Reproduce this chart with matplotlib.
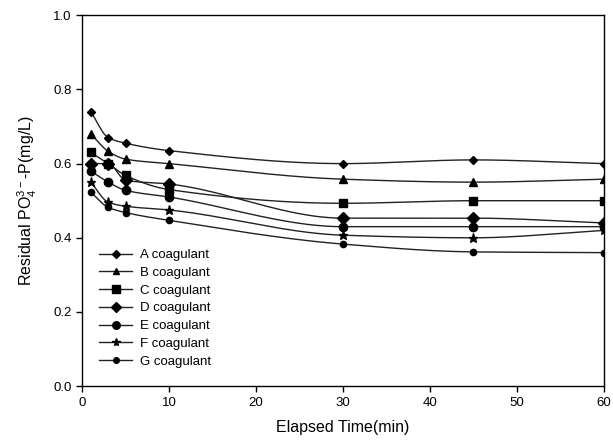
import numpy as np
import matplotlib
matplotlib.use('Agg')
import matplotlib.pyplot as plt

plt.rcParams['font.family'] = ['Liberation Sans', 'DejaVu Sans']
plt.rcParams['mathtext.default'] = 'regular'

# elapsed time (min)
time_min = [1, 3, 5, 10, 30, 45, 60]

# residual PO4-P (mg/L) per coagulant
a_coag = [0.74, 0.67, 0.655, 0.635, 0.60, 0.61, 0.60]
b_coag = [0.68, 0.633, 0.612, 0.60, 0.558, 0.55, 0.558]
c_coag = [0.63, 0.60, 0.568, 0.53, 0.493, 0.50, 0.50]
d_coag = [0.60, 0.60, 0.555, 0.545, 0.453, 0.453, 0.44]
e_coag = [0.58, 0.55, 0.528, 0.51, 0.43, 0.43, 0.43]
f_coag = [0.55, 0.496, 0.485, 0.475, 0.407, 0.40, 0.42]
g_coag = [0.523, 0.482, 0.468, 0.447, 0.383, 0.362, 0.36]

labels = ['A coagulant', 'B coagulant', 'C coagulant', 'D coagulant',
          'E coagulant', 'F coagulant', 'G coagulant']
series = [a_coag, b_coag, c_coag, d_coag, e_coag, f_coag, g_coag]
markers = ['D', '^', 's', 'D', 'o', '*', 'o']
msizes = [4.5, 5.5, 6, 6, 6, 6.5, 4.5]


def pchip(x, y, n=300):
    # monotone cubic through the points (no overshoot)
    x = np.asarray(x, float)
    y = np.asarray(y, float)
    h = np.diff(x)
    delta = np.diff(y) / h
    k = len(x)
    m = np.zeros(k)
    for i in range(1, k - 1):
        if delta[i - 1] * delta[i] > 0:
            w1 = 2 * h[i] + h[i - 1]
            w2 = h[i] + 2 * h[i - 1]
            m[i] = (w1 + w2) / (w1 / delta[i - 1] + w2 / delta[i])
    m[0] = delta[0]
    m[-1] = delta[-1]
    xs = np.linspace(x[0], x[-1], n)
    idx = np.clip(np.searchsorted(x, xs) - 1, 0, k - 2)
    t = (xs - x[idx]) / h[idx]
    h00 = 2 * t ** 3 - 3 * t ** 2 + 1
    h10 = t ** 3 - 2 * t ** 2 + t
    h01 = -2 * t ** 3 + 3 * t ** 2
    h11 = t ** 3 - t ** 2
    ys = (h00 * y[idx] + h10 * h[idx] * m[idx] + h01 * y[idx + 1]
          + h11 * h[idx] * m[idx + 1])
    return xs, ys


fig = plt.figure(figsize=(6.13, 4.48), dpi=100)
ax = fig.add_axes([0.134, 0.138, 0.851, 0.828])

for vals, lab, m, ms in zip(series, labels, markers, msizes):
    xs, ys = pchip(time_min, vals)
    ax.plot(xs, ys, color='#222222', lw=1.0)
    ax.plot(time_min, vals, linestyle='none', marker=m, ms=ms, color='black')
    ax.plot([], [], color='#222222', lw=1.0, marker=m, ms=ms * 0.9,
            markerfacecolor='black', markeredgecolor='black', label=lab)

ax.set_xlim(0, 60)
ax.set_ylim(0, 1.0)
ax.set_xticks(np.arange(0, 61, 10))
ax.set_yticks(np.arange(0, 1.01, 0.2))
ax.set_yticklabels(['%.1f' % v for v in np.arange(0, 1.01, 0.2)])
ax.tick_params(direction='out', length=4, width=1, labelsize=9.5)
for s in ax.spines.values():
    s.set_linewidth(1.0)

ax.set_xlabel('Elapsed Time(min)', fontsize=11.5, labelpad=8)
ax.set_ylabel(r'Residual PO$_4^{3-}$-P(mg/L)', fontsize=11.5, labelpad=10)

ax.legend(loc='upper left', bbox_to_anchor=(0.015, 0.395), frameon=False,
          fontsize=9.5, handlelength=2.5, labelspacing=0.42, handletextpad=0.6,
          borderaxespad=0.3)

fig.savefig('out.png', dpi=100)
